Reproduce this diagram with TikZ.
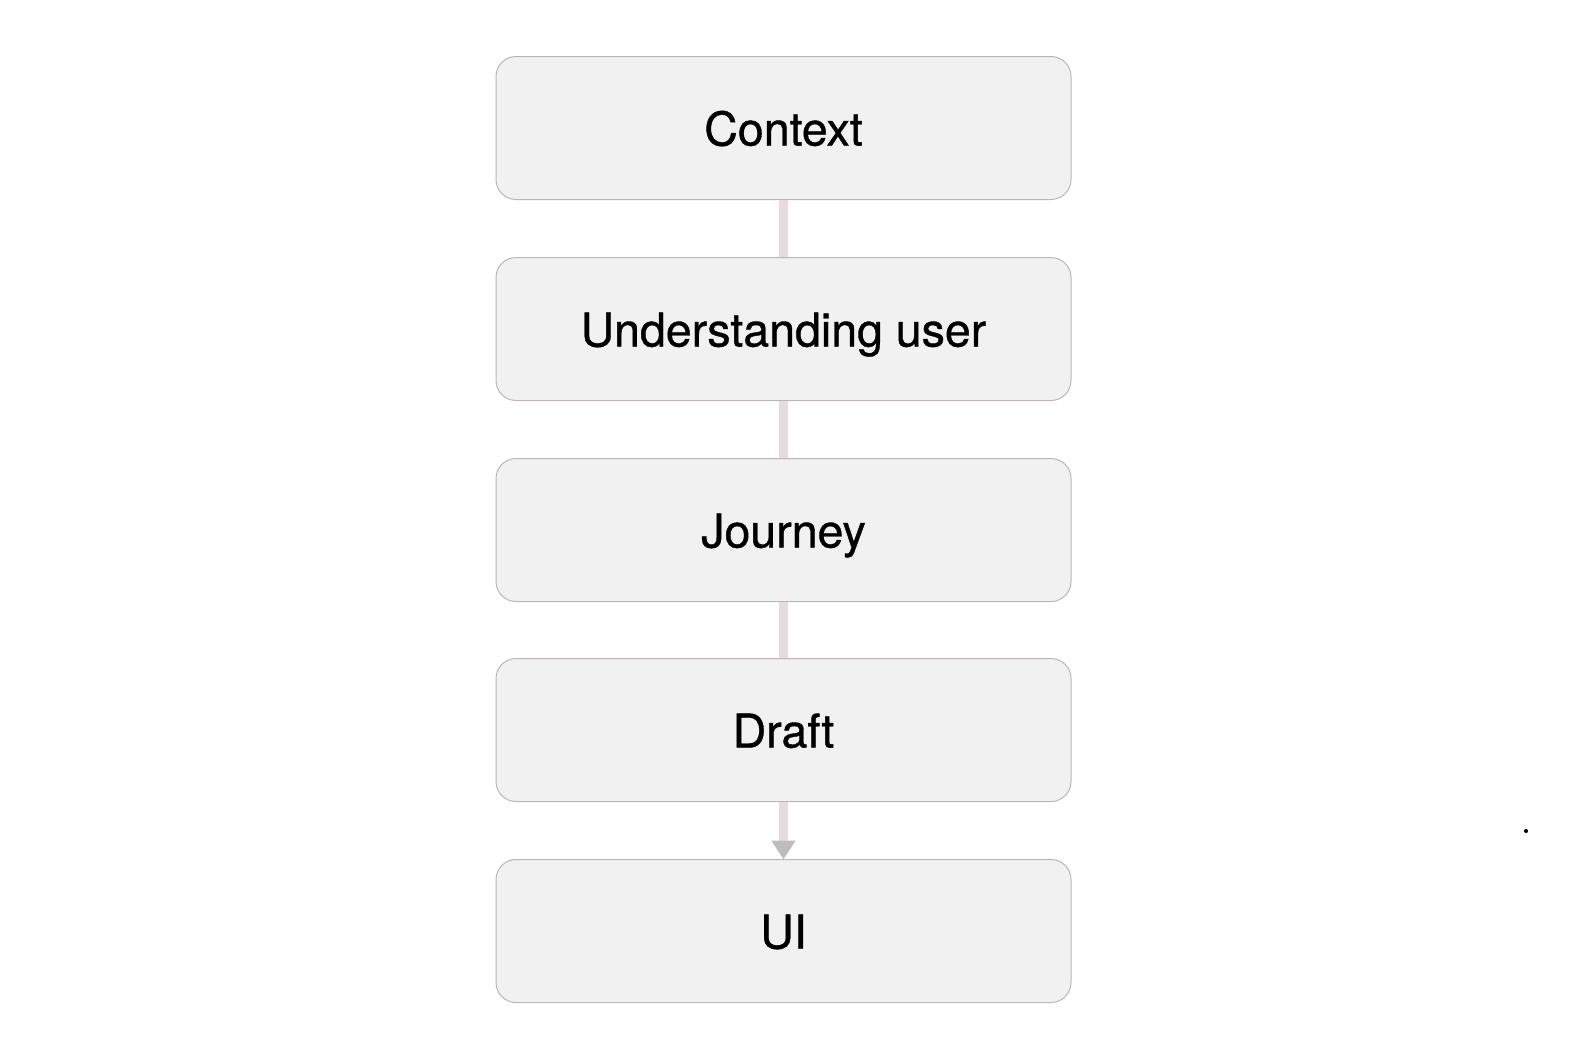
\documentclass[tikz,border=0pt]{standalone}
\usepackage{fontspec}
\setmainfont{TeX Gyre Heros}[FakeBold=0.8]
\usetikzlibrary{arrows.meta}
\definecolor{boxfill}{HTML}{F1F1F1}
\definecolor{boxline}{HTML}{BDB5B7}
\definecolor{linkc}{HTML}{E6DCDE}
\definecolor{tipc}{HTML}{BDBDBD}
\begin{document}
\begin{tikzpicture}[x=1pt,y=-1pt,
  stepbox/.style={draw=boxline,line width=1pt,fill=boxfill,rounded corners=20pt,
    minimum width=575pt,minimum height=143pt,inner sep=0pt,
    text height=35pt,text depth=0pt,
    font=\fontsize{46.5}{54}\selectfont,text=black},
  link/.style={draw=linkc,line width=9pt},
  arrowlink/.style={link,-{Triangle[width=23pt,length=19pt,fill=tipc,color=tipc]}}]
\useasboundingbox (0,0) rectangle (1570,1047);
\node[stepbox] (ctx) at (783.5,128) {Context};
\node[stepbox] (usr) at (783.5,329) {Understanding user};
\node[stepbox] (jrn) at (783.5,530) {Journey};
\node[stepbox] (dft) at (783.5,730) {Draft};
\node[stepbox] (ui)  at (783.5,931) {UI};
\draw[link] (ctx.south) -- (usr.north);
\draw[link] (usr.south) -- (jrn.north);
\draw[link] (jrn.south) -- (dft.north);
\draw[arrowlink,shorten >=-0.5pt] (dft.south) -- (ui.north);
\fill[black] (1526,831) circle (2pt);
\end{tikzpicture}
\end{document}
